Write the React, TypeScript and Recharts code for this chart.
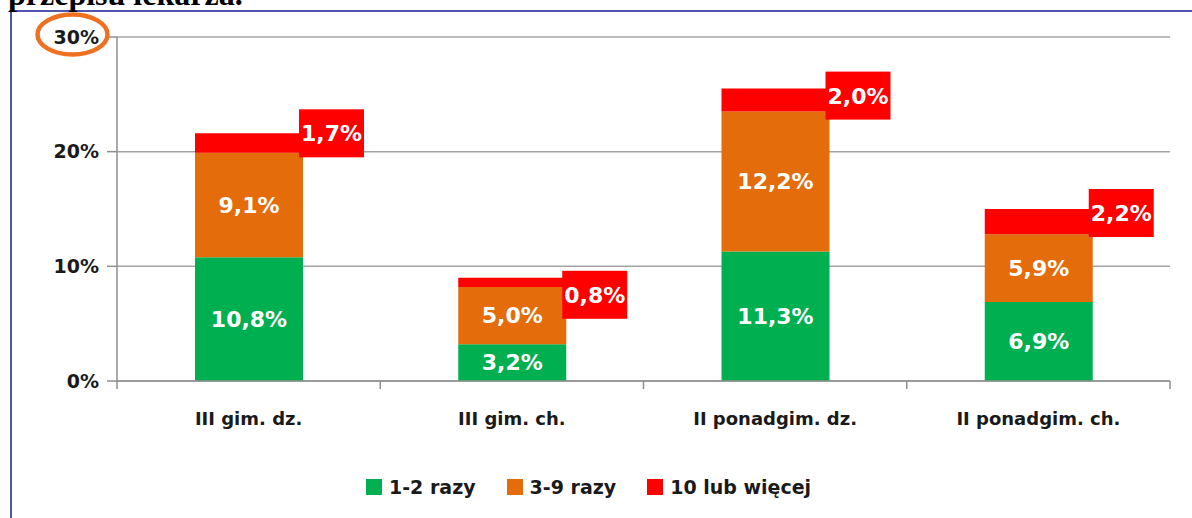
import React from 'react';
import { BarChart, Bar, XAxis, YAxis, CartesianGrid, LabelList } from 'recharts';

const categories = ['III gim. dz.', 'III gim. ch.', 'II ponadgim. dz.', 'II ponadgim. ch.'];
const razy12 = [10.8, 3.2, 11.3, 6.9];
const razy39 = [9.1, 5.0, 12.2, 5.9];
const razy10 = [1.7, 0.8, 2.0, 2.2];
const seriesNames = ['1-2 razy', '3-9 razy', '10 lub więcej'];
const yTicks = [0, 10, 20, 30];

const COLORS = ['#00B050', '#E46C0A', '#FF0000'];
const AXIS = '#8f8f8f';
const FONT = '"DejaVu Sans", sans-serif';

const W = 1192;
const H = 518;
const PLOT_LEFT = 117;
const PLOT_RIGHT = 1170;
const BAND = (PLOT_RIGHT - PLOT_LEFT) / categories.length;
// manual vertical nudge of the outside red labels, like in the source sheet
const redNudge = [0, 17, 7, 4];

const data = categories.map((name, i) => ({
  name,
  a: razy12[i],
  b: razy39[i],
  c: razy10[i],
}));

const fmt = (v: number) => v.toFixed(1).replace('.', ',') + '%';

const XTick = (props: any) => {
  const { x, y, payload, index } = props;
  const last = index === categories.length - 1;
  return (
    <g>
      <line x1={x - BAND / 2} y1={y} x2={x - BAND / 2} y2={y + 8} stroke={AXIS} strokeWidth={1.5} />
      {last && <line x1={x + BAND / 2} y1={y} x2={x + BAND / 2} y2={y + 8} stroke={AXIS} strokeWidth={1.5} />}
      <text x={x} y={y + 44} textAnchor="middle" fill="#1a1a1a" fontFamily={FONT} fontWeight="bold" fontSize={18}>
        {payload.value}
      </text>
    </g>
  );
};

const RedLabel = (props: any) => {
  const { x, y, width, value, index } = props;
  const i = typeof index === 'number' ? index : razy10.indexOf(value);
  const cy = y + (redNudge[i] || 0);
  const bx = x + width - 4;
  return (
    <g>
      <rect x={bx} y={cy - 24} width={65} height={48} fill={COLORS[2]} />
      <text
        x={bx + 32.5}
        y={cy}
        dy="0.36em"
        textAnchor="middle"
        fill="#fff"
        fontFamily={FONT}
        fontWeight="bold"
        fontSize={22}
      >
        {fmt(value)}
      </text>
    </g>
  );
};

const innerLabel = {
  fill: '#fff',
  fontFamily: FONT,
  fontWeight: 'bold' as const,
  fontSize: 22,
};

export default function App() {
  return (
    <div style={{ position: 'absolute', left: 0, top: 0, width: W, height: H, overflow: 'hidden', background: '#fff' }}>
      <div
        style={{
          position: 'absolute',
          left: 10,
          top: 10,
          width: W,
          height: H,
          borderLeft: '2px solid #5252b0',
          borderTop: '2px solid #5252b0',
        }}
      />
      <BarChart
        width={W}
        height={H}
        data={data}
        margin={{ top: 37, right: W - PLOT_RIGHT, left: 0, bottom: 107 }}
        barSize={108}
        style={{ position: 'absolute', left: 0, top: 0 }}
      >
        <CartesianGrid vertical={false} stroke="#a3a3a3" strokeWidth={1.5} />
        <XAxis
          dataKey="name"
          height={30}
          axisLine={{ stroke: AXIS, strokeWidth: 1.5 }}
          tickLine={false}
          tickSize={0}
          tickMargin={0}
          interval={0}
          tick={<XTick />}
        />
        <YAxis
          width={PLOT_LEFT}
          domain={[0, 30]}
          ticks={yTicks}
          tickFormatter={(v: number) => `${v}%`}
          axisLine={{ stroke: AXIS, strokeWidth: 1.5 }}
          tickLine={{ stroke: AXIS, strokeWidth: 1.5 }}
          tickSize={10}
          tickMargin={8}
          tick={{ fill: '#1a1a1a', fontFamily: FONT, fontWeight: 'bold', fontSize: 19 }}
        />
        <Bar dataKey="a" stackId="s" fill={COLORS[0]} isAnimationActive={false}>
          <LabelList dataKey="a" position="center" formatter={(v: any) => fmt(Number(v))} style={innerLabel} />
        </Bar>
        <Bar dataKey="b" stackId="s" fill={COLORS[1]} isAnimationActive={false}>
          <LabelList dataKey="b" position="center" formatter={(v: any) => fmt(Number(v))} style={innerLabel} />
        </Bar>
        <Bar dataKey="c" stackId="s" fill={COLORS[2]} isAnimationActive={false}>
          <LabelList dataKey="c" content={<RedLabel />} />
        </Bar>
      </BarChart>
      <div
        style={{
          position: 'absolute',
          left: 366,
          top: 476,
          height: 22,
          display: 'flex',
          alignItems: 'center',
          fontFamily: FONT,
          fontWeight: 'bold',
          fontSize: 19,
          color: '#1a1a1a',
          whiteSpace: 'nowrap',
        }}
      >
        {seriesNames.map((n, i) => (
          <div key={n} style={{ display: 'flex', alignItems: 'center', marginRight: 31 }}>
            <span style={{ width: 16, height: 16, background: COLORS[i], marginRight: 7, display: 'inline-block' }} />
            <span>{n}</span>
          </div>
        ))}
      </div>
      <svg width={W} height={H} style={{ position: 'absolute', left: 0, top: 0, pointerEvents: 'none' }}>
        <text x={8} y={5} fontFamily='"Liberation Serif", serif' fontWeight="bold" fontSize={32} fill="#000">
          przepisu lekarza.
        </text>
        <ellipse cx={72.5} cy={34.5} rx={35} ry={20} fill="none" stroke="#F07022" strokeWidth={4.5} />
      </svg>
    </div>
  );
}
